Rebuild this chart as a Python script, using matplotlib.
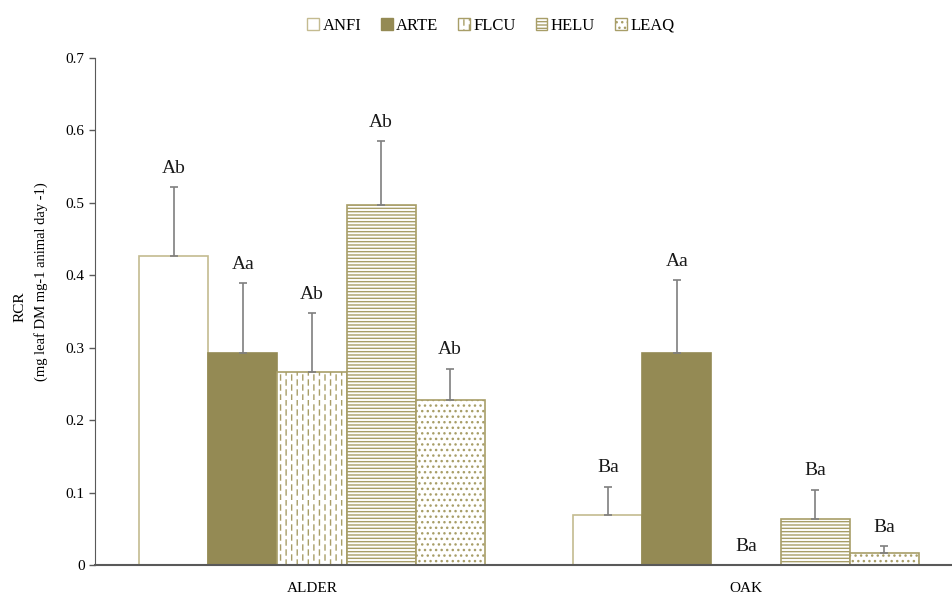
import numpy as np
import matplotlib
matplotlib.use("Agg")
import matplotlib.pyplot as plt
from matplotlib import hatch as mhatch
from matplotlib.path import Path
from matplotlib.patches import Patch

# ---- data ----
sites = ["ALDER", "OAK"]
species = ["ANFI", "ARTE", "FLCU", "HELU", "LEAQ"]
alder_vals = [0.427, 0.293, 0.266, 0.497, 0.228]
alder_err = [0.095, 0.096, 0.082, 0.088, 0.043]
oak_vals = [0.069, 0.293, 0.0, 0.064, 0.017]
oak_err = [0.039, 0.100, 0.0, 0.040, 0.009]
alder_letters = ["Ab", "Aa", "Ab", "Ab", "Ab"]
oak_letters = ["Ba", "Aa", "Ba", "Ba", "Ba"]
ylabel_lines = ["RCR", "(mg leaf DM mg-1 animal day -1)"]

# ---- custom dashed vertical hatch (replaces '|') ----
class VerticalDashHatch(mhatch.HatchPatternBase):
    def __init__(self, hatch, density):
        self.num_cols = hatch.count('|') * 18
        self.num_rows = 10 if self.num_cols else 0
        self.num_vertices = self.num_cols * self.num_rows * 2

    def set_vertices_and_codes(self, vertices, codes):
        k = 0
        for i in range(self.num_cols):
            x = (i + 0.5) / self.num_cols
            off = 0.5 * (i % 2)
            for j in range(self.num_rows):
                y0 = (j + off) / self.num_rows
                y1 = y0 + 0.5 / self.num_rows
                vertices[k] = (x, y0)
                vertices[k + 1] = (x, y1)
                codes[k] = Path.MOVETO
                codes[k + 1] = Path.LINETO
                k += 2

mhatch._hatch_types = [VerticalDashHatch if t is mhatch.VerticalHatch else t
                       for t in mhatch._hatch_types]

plt.rcParams['font.family'] = ['Liberation Serif', 'DejaVu Serif']
plt.rcParams['hatch.linewidth'] = 1.0

olive = '#948a54'
edge_light = '#c4bb90'
edge_hatch = '#a89e68'
facecolors = ['white', olive, 'white', 'white', 'white']
edgecolors = [edge_light, olive, edge_hatch, edge_hatch, edge_hatch]
hatches = [None, None, '|', '-----', '...']

fig = plt.figure(figsize=(9.53, 5.94), dpi=100)
ax = fig.add_axes([95 / 953, 29 / 594, 1 - 95 / 953, 507 / 594])

x = np.arange(len(sites))
w = 0.159
vals = [alder_vals, oak_vals]
errs = [alder_err, oak_err]
letters = [alder_letters, oak_letters]

for k, sp in enumerate(species):
    pos = x + (k - 2) * w
    v = [vals[g][k] for g in range(len(sites))]
    e = [errs[g][k] for g in range(len(sites))]
    ax.bar(pos, v, width=w, color=facecolors[k], edgecolor=edgecolors[k],
           hatch=hatches[k], linewidth=1.2, zorder=2)
    for g in range(len(sites)):
        if e[g] > 0:
            ax.errorbar(pos[g], v[g], yerr=[[0], [e[g]]], fmt='none',
                        ecolor='#7f7f7f', elinewidth=1.2, capsize=3,
                        capthick=1.2, zorder=3)
        ax.text(pos[g], v[g] + e[g] + 0.026, letters[g][k], ha='center',
                va='center', fontsize=14, color='#1a1a1a')

ax.set_xlim(-0.5, -0.5 + 858 / 434)
ax.set_ylim(0, 0.7)
ax.set_yticks(np.arange(0, 0.71, 0.1))
ax.set_yticklabels(['0'] + [f'{t:.1f}' for t in np.arange(0.1, 0.71, 0.1)])
ax.set_xticks(x)
ax.set_xticklabels(sites)
ax.tick_params(axis='x', length=0, pad=12, labelsize=11)
ax.tick_params(axis='y', length=4, width=1, direction='out', labelsize=11,
               color='#595959')
for s in ['top', 'right']:
    ax.spines[s].set_visible(False)
ax.spines['left'].set_color('#595959')
ax.spines['bottom'].set_color('#595959')
ax.spines['bottom'].set_linewidth(1.5)

fig.text(20 / 953, 1 - 307 / 594, ylabel_lines[0], rotation=90,
         ha='center', va='center', fontsize=11)
fig.text(41 / 953, 1 - 282 / 594, ylabel_lines[1], rotation=90,
         ha='center', va='center', fontsize=10.5)

handles = [Patch(facecolor=facecolors[k], edgecolor=edgecolors[k],
                 hatch=hatches[k], label=species[k]) for k in range(len(species))]
fig.legend(handles=handles, loc='upper center', bbox_to_anchor=(0.515, 0.995),
           ncol=5, frameon=False, fontsize=12, handlelength=0.7,
           handleheight=0.7, handletextpad=0.2, columnspacing=1.2)

fig.savefig('out.png', dpi=100)
